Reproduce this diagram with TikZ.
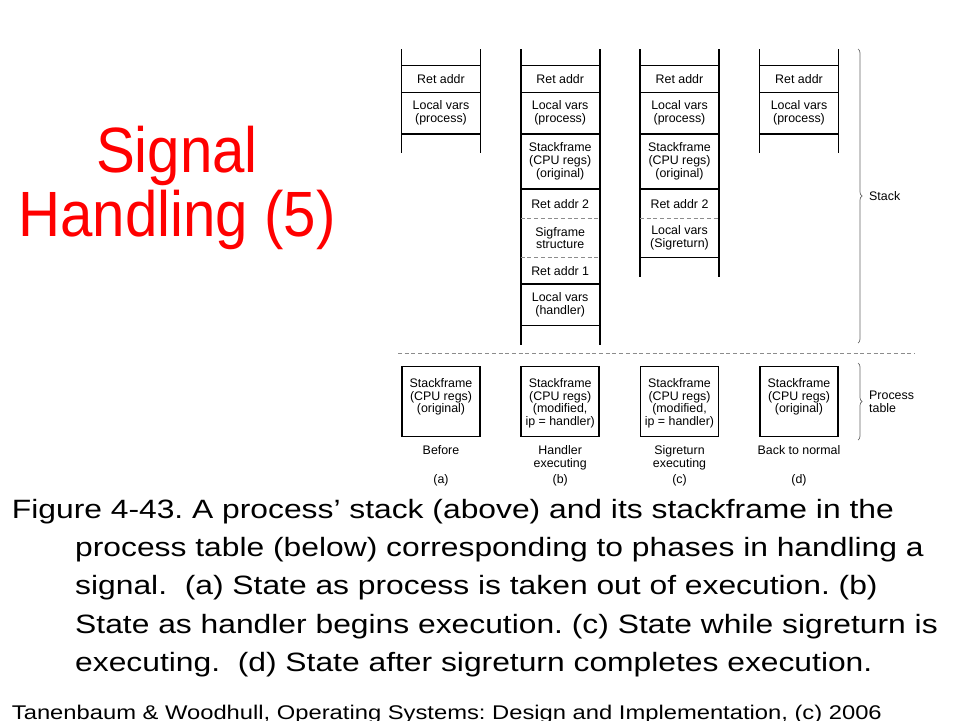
\documentclass[tikz,border=0pt]{standalone}
\usepackage{fontspec}
\setmainfont{Liberation Sans}
\newfontfamily\titlefont[FakeStretch=0.91]{Liberation Sans}
\newfontfamily\capfont[FakeStretch=1.2]{Liberation Sans}
\usetikzlibrary{decorations.pathreplacing}
\frenchspacing

\begin{document}
\begin{tikzpicture}[x=1pt, y=-1pt,
  Cell/.style={align=center, inner sep=0pt, font=\fontsize{12.4}{12.8}\selectfont},
  Rail/.style={line width=1.8pt},
  Rule/.style={line width=1.3pt},
  Split/.style={line width=0.8pt, black!45, dash pattern=on 4pt off 2.7pt},
  Frame/.style={draw, line width=1.6pt, minimum width=78pt, minimum height=70pt, inner sep=0pt},
  Brace/.style={decorate, decoration={brace, amplitude=4pt}, black!60, line width=0.7pt},
  Title/.style={anchor=base, inner sep=0pt, text=red, font=\titlefont\fontsize{64}{64}\selectfont},
  Caption/.style={anchor=base west, inner sep=0pt, font=\capfont\fontsize{26.5}{32}\selectfont}]

\useasboundingbox (0,0) rectangle (960,720);
\fill [white] (0,0) rectangle (960,720);

\node [Title] (title1) at (177,172) {Signal};
\node [Title] (title2) at (177,236) {Handling (5)};

\foreach \x/\col/\bottom in {401.5/a/153, 520.7/b/345, 640/c/276.7, 759.5/d/153} {
  \draw [Rail] (\x,49) -- (\x,\bottom) (\x+79,49) -- (\x+79,\bottom);
  \draw [Rule] (\x,65.7) -- +(79,0) (\x,92.3) -- +(79,0) (\x,134) -- +(79,0);
  \node [Cell] (ret\col) at (\x+39.5,79) {Ret addr};
  \node [Cell] (loc\col) at (\x+39.5,113) {Local vars\\(process)};
}

\foreach \x/\col in {520.7/b, 640/c} {
  \draw [Rule] (\x,189) -- +(79,0);
  \draw [Split] (\x,218.3) -- +(79,0);
  \node [Cell] (orig\col) at (\x+39.5,161.5) {Stackframe\\(CPU regs)\\(original)};
  \node [Cell] (rettwo\col) at (\x+39.5,203.7) {Ret addr 2};
}

\draw [Split] (520.7,257.5) -- +(79,0);
\draw [Rule] (520.7,284) -- +(79,0) (520.7,325.7) -- +(79,0);
\node [Cell] (sigframe) at (560.2,238) {Sigframe\\structure};
\node [Cell] (retone) at (560.2,270.7) {Ret addr 1};
\node [Cell] (lochandler) at (560.2,304.8) {Local vars\\(handler)};

\draw [Rule] (640,257.5) -- +(79,0);
\node [Cell] (locsigret) at (679.5,238) {Local vars\\(Sigreturn)};

\draw [Split] (398,353.5) -- (915,353.5);

\foreach \x/\col/\regs/\phase in {
  401.5/a/{(original)}/{Before},
  520.7/b/{(modified,\\ip = handler)}/{Handler\\executing},
  640/c/{(modified,\\ip = handler)}/{Sigreturn\\executing},
  759.5/d/{(original)}/{Back to normal}} {
  \node [Frame] (frame\col) at (\x+39.5,401.5) {};
  \node [Cell, anchor=north] (regs\col) at ([yshift=-12.5pt]frame\col.north) {Stackframe\\(CPU regs)\\\regs};
  \node [Cell, anchor=north] (phase\col) at (\x+39.5,445.5) {\phase};
  \node [Cell] (tag\col) at (\x+39.5,480) {(\col)};
}

\draw [Brace] (858,49) -- (858,343);
\draw [Brace] (858,363) -- (858,440);
\node [Cell, anchor=west] (stacklabel) at (869,196) {Stack};
\node [Cell, anchor=west, align=left] (tablelabel) at (869,401.5) {Process\\table};

\node [Caption] (cap1) at (11.7,518.3) {Figure 4-43. A process’ stack (above) and its stackframe in the};
\node [Caption] (cap2) at (75,556.6) {process table (below) corresponding to phases in handling a};
\node [Caption] (cap3) at (75,594.9) {signal.~ (a) State as process is taken out of execution. (b)};
\node [Caption] (cap4) at (75,633.2) {State as handler begins execution. (c) State while sigreturn is};
\node [Caption] (cap5) at (75,671.5) {executing.~ (d) State after sigreturn completes execution.};
\node [Caption, font=\capfont\fontsize{19.8}{24}\selectfont] (source) at (11.7,719) {Tanenbaum \& Woodhull, Operating Systems: Design and Implementation, (c) 2006};
\end{tikzpicture}
\end{document}
